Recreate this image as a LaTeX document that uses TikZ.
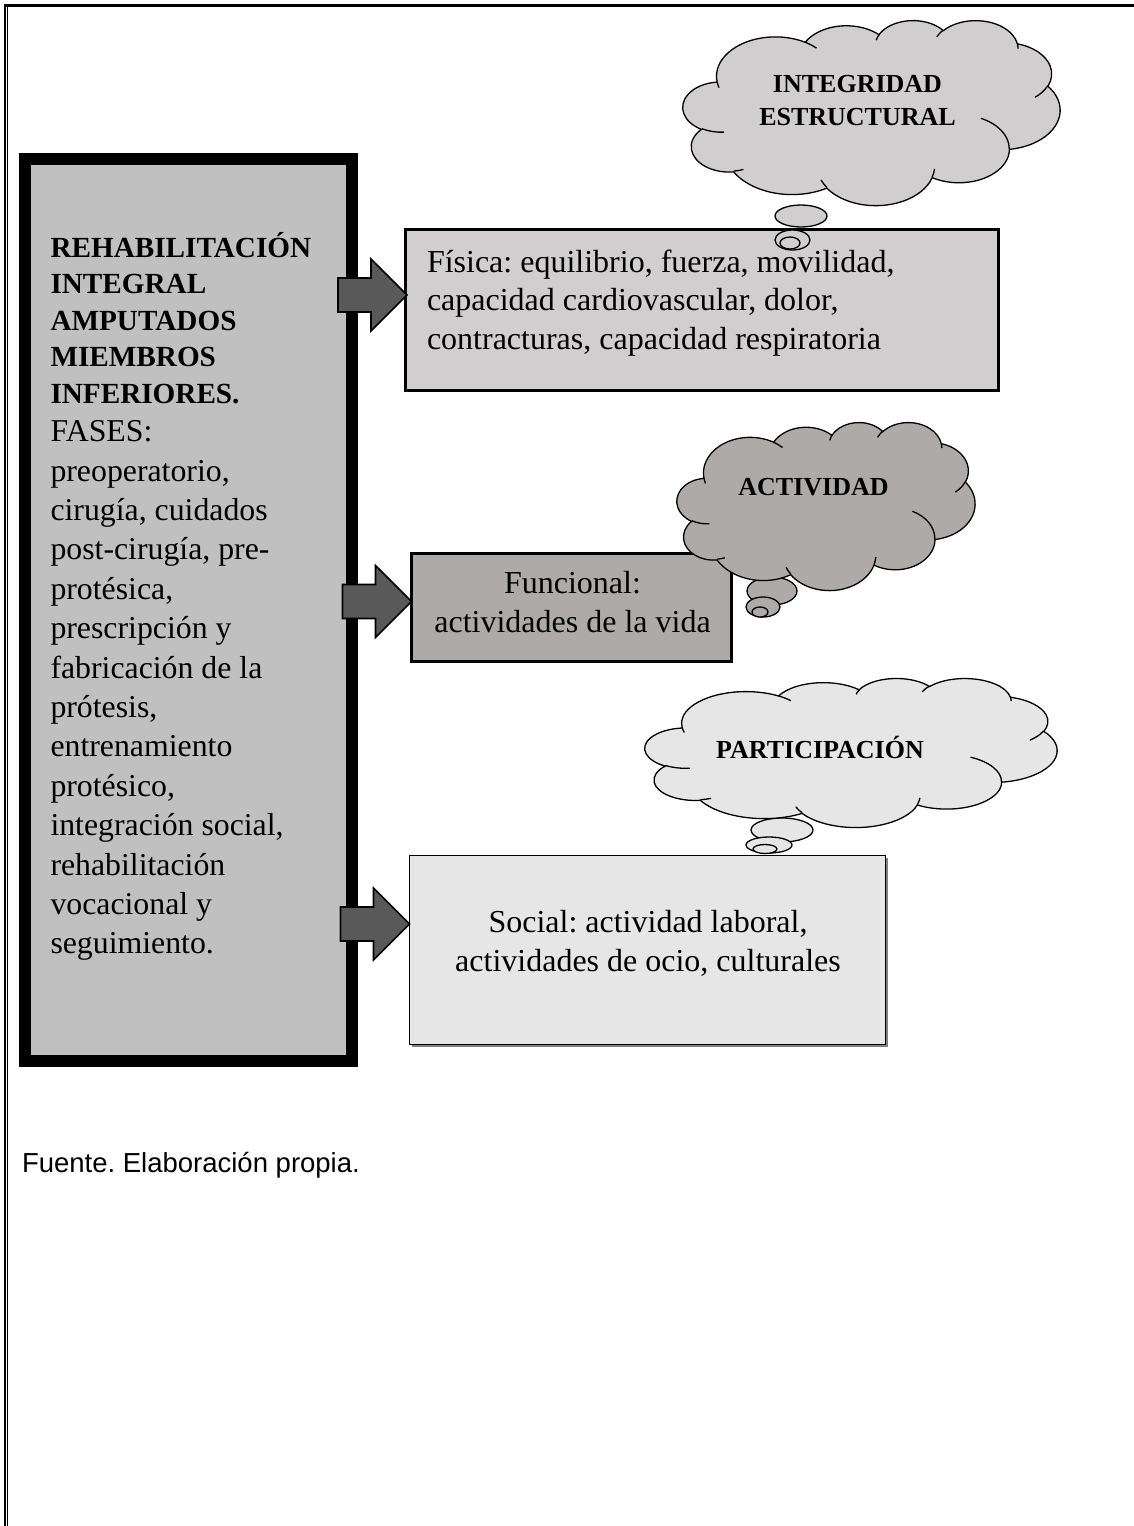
\documentclass[tikz,border=0pt]{standalone}
\usepackage{fontspec}
\setmainfont{Liberation Serif}
\newfontfamily\footfont{Liberation Sans}
\usetikzlibrary{shapes.geometric,calc,shadows}
\definecolor{leftgray}{HTML}{C0C0C0}
\definecolor{physgray}{HTML}{D0CECE}
\definecolor{funcgray}{HTML}{AEAAAA}
\definecolor{socgray}{HTML}{E7E6E6}
\definecolor{arrowgray}{HTML}{595959}

% one elliptic arc of the cloud outline: radii, start angle and sweep,
% both angles measured as seen from the centre
\tikzset{
  cld/.style n args={4}{x radius=#1, y radius=#2,
    start angle={atan2(#1*sin(#3),#2*cos(#3))},
    delta angle={mod(atan2(#1*sin(#3+#4),#2*cos(#3+#4))-atan2(#1*sin(#3),#2*cos(#3))+720,360)}},
  pics/thoughtcloud/.style={code={
    \path[pic actions,draw=none] (39.00,143.70)
      arc[cld={67.53}{91.90}{-190.4875}{123.7805}]
      arc[cld={53.33}{72.67}{-144.1024}{89.9452}]
      arc[cld={43.65}{59.45}{-145.8079}{99.7230}]
      arc[cld={48.57}{65.95}{-130.9861}{117.2417}]
      arc[cld={53.33}{72.73}{-78.7089}{109.0269}]
      arc[cld={67.75}{92.20}{-46.2673}{130.2690}]
      arc[cld={57.85}{78.67}{0.6250}{114.0333}]
      arc[cld={67.52}{92.15}{22.4516}{115.1726}]
      arc[cld={77.20}{105.43}{66.2426}{75.7110}]
      arc[cld={43.60}{59.18}{-274.9421}{146.7356}]
      arc[cld={43.45}{59.45}{-246.8285}{152.5189}] -- cycle;
    \draw[cloudline] (39.00,143.70)
      arc[cld={67.53}{91.90}{-190.4875}{123.7805}]
      arc[cld={53.33}{72.67}{-144.1024}{89.9452}]
      arc[cld={43.65}{59.45}{-145.8079}{99.7230}]
      arc[cld={48.57}{65.95}{-130.9861}{117.2417}]
      arc[cld={53.33}{72.73}{-78.7089}{109.0269}]
      arc[cld={67.75}{92.20}{-46.2673}{130.2690}]
      arc[cld={57.85}{78.67}{0.6250}{114.0333}]
      arc[cld={67.52}{92.15}{22.4516}{115.1726}]
      arc[cld={77.20}{105.43}{66.2426}{75.7110}]
      arc[cld={43.60}{59.18}{-274.9421}{146.7356}]
      arc[cld={43.45}{59.45}{-246.8285}{152.5189}] -- cycle;
    % short inner strokes where the puffs overlap
    \draw[cloudline]
      (46.93,261.77) arc[cld={43.45}{59.45}{86.7420}{26.4295}]
      (69.28,348.99) arc[cld={43.60}{59.18}{73.6105}{11.4475}]
      (164.78,390.90) arc[cld={67.52}{92.15}{137.6242}{14.0811}]
      (288.27,347.51) arc[cld={67.52}{92.15}{6.4533}{15.9984}]
      (341.29,229.54) arc[cld={57.85}{78.67}{-70.2924}{70.9174}]
      (417.98,153.54) arc[cld={53.33}{72.73}{30.3180}{27.7515}]
      (383.24,54.26) arc[cld={48.57}{65.95}{-13.7443}{14.8589}]
      (290.78,39.52) arc[cld={48.57}{65.95}{-149.1815}{18.1954}]
      (221.41,47.20) arc[cld={43.65}{59.45}{-163.4943}{17.6864}]
      (140.00,51.92) arc[cld={67.53}{92.90}{-66.7070}{12.3194}]
      (41.27,157.89) arc[cld={67.53}{91.90}{157.6544}{11.8582}];
  }}
}

\begin{document}
\begin{tikzpicture}[x=1pt,y=-1pt,
  mainbox/.style={draw=black,line width=12pt,fill=leftgray,inner sep=0pt,outer sep=0pt},
  areabox/.style={draw=black,inner sep=0pt,outer sep=0pt},
  headfont/.style={font=\fontsize{29.2}{36.5}\selectfont\bfseries},
  bodyfont/.style={font=\fontsize{31.8}{39.4}\selectfont},
  boxfont/.style={font=\fontsize{32}{38.5}\selectfont},
  plaintext/.style={inner sep=0pt,outer sep=0pt},
  blockarrow/.style={draw=black,line width=1.6pt,fill=arrowgray,line join=miter},
  cloudline/.style={draw=black,line width=1.3pt},
  bubble/.style={ellipse,draw=black,line width=1.3pt,inner sep=0pt,outer sep=0pt},
  cloudfont/.style={font=\fontsize{26}{33}\selectfont\bfseries,align=center,inner sep=0pt}
]
\frenchspacing
\useasboundingbox (0,0) rectangle (1134,1526);

% page frame: heavy top rule and a double rule on the left
\draw[line width=3.4pt] (4,5.7) -- (1134,5.7);
\draw[line width=1.7pt] (4.85,4) -- (4.85,1526);
\draw[line width=1.6pt] (7.5,7.3) -- (7.5,1526);

% main column
\node[mainbox,minimum width=326.5pt,minimum height=901.5pt] (main) at (188.25,609.75) {};
\node[plaintext,headfont,align=left,anchor=base west] (head) at (50.5,403.3)
  {REHABILITACIÓN\\INTEGRAL\\AMPUTADOS\\MIEMBROS\\INFERIORES.};
\node[plaintext,bodyfont,align=left,anchor=base west] (phases) at (50.5,953.9)
  {FASES:\\preoperatorio,\\cirugía, cuidados\\post-cirugía, pre-\\protésica,\\prescripción y\\fabricación de la\\prótesis,\\entrenamiento\\protésico,\\integración social,\\rehabilitación\\vocacional y\\seguimiento.};

% the three areas
\node[areabox,line width=3pt,fill=physgray,minimum width=593pt,minimum height=161pt] (fis) at (701.5,310) {};
\node[plaintext,boxfont,align=left,anchor=base west] (fistext) at (427,349)
  {Física: equilibrio, fuerza, movilidad,\\capacidad cardiovascular, dolor,\\contracturas, capacidad respiratoria};

\node[areabox,line width=2.6pt,fill=funcgray,minimum width=320pt,minimum height=108pt] (fun) at (571.5,607.5) {};
\node[plaintext,boxfont,align=center,anchor=base] (funtext) at (572.5,632)
  {Funcional:\\actividades de la vida};

\node[areabox,line width=1.5pt,fill=socgray,minimum width=476pt,minimum height=189pt,
  drop shadow={shadow xshift=2pt,shadow yshift=-2pt,fill=gray,opacity=1}] (soc) at (647.5,950) {};
\node[plaintext,boxfont,align=center,anchor=base] (soctext) at (648,971)
  {Social: actividad laboral,\\actividades de ocio, culturales};

% block arrows from the main column to each area
\coordinate (tipfis) at ($(fis.west)+(2,-15)$);
\coordinate (tipfun) at ($(fun.west)+(0,-6)$);
\coordinate (tipsoc) at ($(soc.west)+(0,-26)$);
\foreach \t in {tipfis,tipfun,tipsoc}{
  \draw[blockarrow] ($(\t)+(-69,-17)$) -- ++(33,0) -- ++(0,-19) -- (\t)
    -- ($(\t)+(-36,36)$) -- ++(0,-19) -- ++(-33,0) -- cycle;
}

% thought bubbles
\node[bubble,fill=physgray,minimum width=52pt,minimum height=22pt] (b1a) at (801,216) {};
\node[bubble,fill=physgray,minimum width=35pt,minimum height=20pt] (b1b) at (792.5,240) {};
\node[bubble,fill=physgray,minimum width=20pt,minimum height=12pt] (b1c) at (790,243) {};

\node[bubble,fill=funcgray,minimum width=50pt,minimum height=28pt] (b2a) at (772,591) {};
\node[bubble,fill=funcgray,minimum width=34pt,minimum height=20pt] (b2b) at (763,607) {};
\node[bubble,fill=funcgray,minimum width=16pt,minimum height=10pt] (b2c) at (760,612) {};

\node[bubble,fill=socgray,minimum width=62pt,minimum height=24pt] (b3a) at (782,830) {};
\node[bubble,fill=socgray,minimum width=46pt,minimum height=16pt] (b3b) at (769,845) {};
\node[bubble,fill=socgray,minimum width=24pt,minimum height=9pt] (b3c) at (765,849) {};

% clouds (outline drawn in a 432 x 432 frame, scaled to each size)
\pic[fill=physgray,xscale=377/432,yscale=185/432] at (683,20) {thoughtcloud};
\node[cloudfont,anchor=base] (c1text) at (857.5,125) {INTEGRIDAD\\ESTRUCTURAL};

\pic[fill=funcgray,xscale=298/432,yscale=168/432] at (677,422) {thoughtcloud};
\node[cloudfont,anchor=base] (c2text) at (813.5,495) {ACTIVIDAD};

\pic[fill=socgray,xscale=412/432,yscale=149/432] at (645,678) {thoughtcloud};
\node[cloudfont,anchor=base] (c3text) at (820,758) {PARTICIPACIÓN};

% source line
\node[plaintext,font=\footfont\fontsize{27.5}{33}\selectfont,anchor=base west] (source) at (22,1172)
  {Fuente. Elaboración propia.};
\end{tikzpicture}
\end{document}
